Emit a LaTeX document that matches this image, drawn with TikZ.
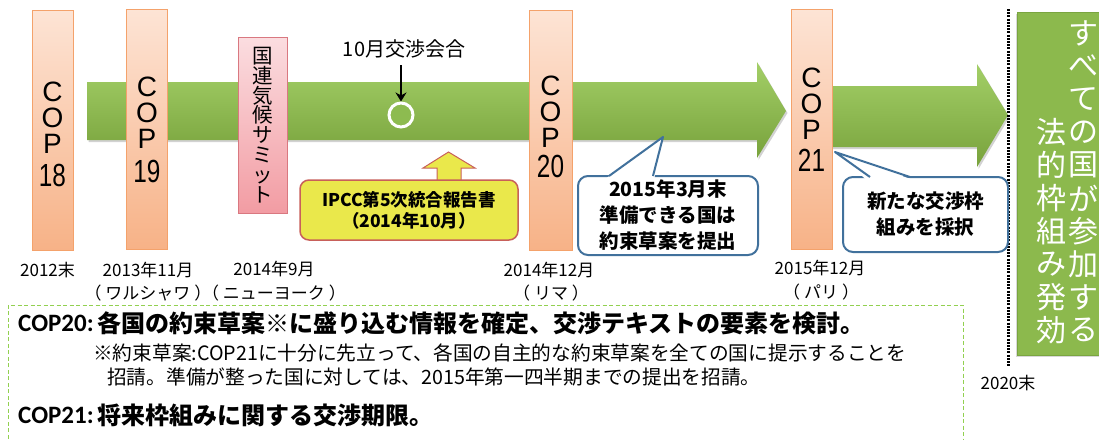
\documentclass[tikz,border=0pt]{standalone}
\usepackage{fontspec}
\setmainfont{Noto Sans CJK JP}
\newfontfamily\arialf{Liberation Sans}
\newfontfamily\calib{Carlito}
\usetikzlibrary{arrows.meta,shadows}
\definecolor{copTop}{HTML}{FDE4D5}
\definecolor{copBot}{HTML}{F7B287}
\definecolor{copLine}{HTML}{F4A26B}
\definecolor{pinkTop}{HTML}{FBDDE0}
\definecolor{pinkBot}{HTML}{F29CA3}
\definecolor{pinkLine}{HTML}{D97880}
\definecolor{grnTop}{HTML}{A3CF67}
\definecolor{grnMid}{HTML}{8DBB50}
\definecolor{grnBot}{HTML}{78A23C}
\definecolor{grnBox}{HTML}{8CB94D}
\definecolor{grnBoxLine}{HTML}{7AA540}
\definecolor{ylw}{HTML}{EAE84B}
\definecolor{ylwLine}{HTML}{C8605A}
\definecolor{callLine}{HTML}{41719C}
\definecolor{dashGrn}{HTML}{92D050}
\begin{document}
\begin{tikzpicture}[x=1pt,y=-1pt,
  copbox/.style={draw=copLine, line width=0.8pt, top color=copTop, bottom color=copBot, inner sep=0pt, minimum width=41pt, minimum height=240pt},
  coptext/.style={font=\arialf\fontsize{28}{26}\selectfont, align=center, inner sep=0pt},
  copnum/.style={font=\arialf\fontsize{32}{32}\selectfont, inner sep=0pt, xscale=0.76},
  datetext/.style={font=\fontsize{17}{17}\selectfont, inner sep=0pt},
  greenarrow/.style={top color=grnTop, middle color=grnMid, bottom color=grnBot, drop shadow={shadow xshift=1.5pt, shadow yshift=-2pt, opacity=0.35}},
  callbox/.style={draw=callLine, line width=2pt, fill=white, rounded corners=10pt, inner sep=0pt, font=\bfseries\fontsize{19.5}{26}\selectfont, align=center},
  bigchar/.style={font=\fontsize{30}{30}\selectfont, text=white, inner sep=0pt},
  bodytext/.style={font=\fontsize{19.7}{19.7}\selectfont, inner sep=0pt, anchor=west},
  headtext/.style={font=\bfseries\fontsize{24}{24}\selectfont, inner sep=0pt, anchor=west},
  headlabel/.style={font=\calib\bfseries\fontsize{25}{25}\selectfont, inner sep=0pt, anchor=west}]
\useasboundingbox (0,0) rectangle (1099,439);
\fill[white] (0,0) rectangle (1099,439);

% dashed frame
\draw[dashGrn, line width=0.8pt, dash pattern=on 4pt off 2.5pt] (8,445) -- (8,305) -- (963,305) -- (963,445);

% green timeline arrows
\path[greenarrow] (87,82) -- (757,82) -- (757,62) -- (786,111) -- (757,158) -- (757,140) -- (87,140) -- cycle;
\path[greenarrow] (820,86) -- (977,86) -- (977,64) -- (1008,115) -- (977,167) -- (977,147) -- (820,147) -- cycle;

% final goal box
\node[fill=grnBox, draw=grnBoxLine, line width=0.8pt, minimum width=95pt, minimum height=343pt, inner sep=0pt, anchor=north west, drop shadow={shadow xshift=-1.5pt, shadow yshift=-2pt, opacity=0.3}] (goal) at (1017,12) {};
\foreach \c [count=\i] in {す,べ,て,の,国,が,参,加,す,る}
  \node[bigchar] (r\i) at (1083,{33*\i}) {\c};
\foreach \c [count=\i from 4] in {法,的,枠,組,み,発,効}
  \node[bigchar] (l\i) at (1051,{33*\i}) {\c};

% dotted 2020 line
\coordinate (dtop) at (1008.5,9);
\coordinate (dbot) at (1008.5,366);
\draw[line width=3pt, dash pattern=on 2pt off 1.2pt] (dtop) -- (dbot);

% COP boxes
\node[copbox] (cop18) at (52.5,130) {};
\node[coptext] (t18) at (52.5,118) {C\\O\\P};
\node[copnum] (n18) at (52.5,175) {18};
\node[copbox] (cop19) at (147,129) {};
\node[coptext] (t19) at (147,113) {C\\O\\P};
\node[copnum] (n19) at (147,171) {19};
\node[copbox, minimum width=43pt] (cop20) at (550.5,130) {};
\node[coptext] (t20) at (550.5,112) {C\\O\\P};
\node[copnum] (n20) at (550.5,166.5) {20};
\node[copbox] (cop21) at (811.5,129) {};
\node[coptext] (t21) at (811.5,104) {C\\O\\P};
\node[copnum] (n21) at (811.5,160) {21};

% UN climate summit
\node[draw=pinkLine, line width=0.8pt, top color=pinkTop, bottom color=pinkBot, minimum width=49pt, minimum height=176pt, inner sep=0pt] (summit) at (262.5,125) {};
\node[font=\fontsize{20.5}{19.8}\selectfont, align=center, inner sep=0pt] (summitt) at (262.5,125) {国\\連\\気\\候\\サ\\ミ\\ッ\\ト};

% October meeting
\node[font=\fontsize{20}{20}\selectfont, inner sep=0pt] (oct) at (404,49) {10月交渉会合};
\node[circle, draw=white, line width=3pt, fill=grnMid, minimum size=24pt, inner sep=0pt] (octc) at (401,115) {};
\draw[line width=2.5pt, -{Stealth[length=9pt,width=11pt]}] (401,65) -- (octc.north);

% IPCC
\path[fill=ylw, draw=ylwLine, line width=1pt] (437,186) -- (437,168) -- (423,168) -- (448.5,152) -- (475,168) -- (461,168) -- (461,186) -- cycle;
\node[fill=ylw, draw=ylwLine, line width=1.5pt, rounded corners=9pt, minimum width=218pt, minimum height=60pt, inner sep=0pt, font=\bfseries\fontsize{17.5}{21}\selectfont, align=center] (ipcc) at (409,210) {IPCC第5次統合報告書\\（2014年10月）};

% callout 1
\node[callbox, minimum width=180pt, minimum height=79pt] (call1) at (668,215.5) {2015年3月末\\準備できる国は\\約束草案を提出};
\coordinate (p1) at (663,137);
\fill[white] (606,178.5) -- (p1) -- (654.3,178.5) -- cycle;
\draw[callLine, line width=2pt, line join=round] (609,176) -- (p1) -- (653,176);

% callout 2
\node[callbox, minimum width=165pt, minimum height=75pt] (call2) at (925.5,214.5) {新たな交渉枠\\組みを採択};
\coordinate (p2) at (835,152);
\fill[white] (866,179.5) -- (p2) -- (912,179.5) -- cycle;
\draw[callLine, line width=2pt, line join=round] (870,177) -- (p2) -- (910,177);

% date labels
\node[datetext] (d12) at (47.5,270) {2012末};
\node[datetext] (d13) at (148,270) {2013年11月};
\node[datetext] (d13b) at (148,293) {（\hspace{4pt}ワルシャワ\hspace{4pt}）};
\node[datetext] (d14) at (274,269) {2014年9月};
\node[datetext] (d14b) at (274,293) {（\hspace{4pt}ニューヨーク\hspace{4pt}）};
\node[datetext] (d1412) at (549,270) {2014年12月};
\node[datetext] (d1412b) at (551,293) {（\hspace{4pt}リマ\hspace{4pt}）};
\node[datetext] (d15) at (820,268) {2015年12月};
\node[datetext] (d15b) at (821,292) {（\hspace{4pt}パリ\hspace{4pt}）};
\node[datetext] (d20) at (1008,383) {2020末};

% bottom text
\node[headlabel] (h20) at (18,323) {COP20:};
\node[headtext] (h20t) at (97,323) {各国の約束草案※に盛り込む情報を確定、交渉テキストの要素を検討。};
\node[bodytext] (n1) at (93,353) {※約束草案:COP21に十分に先立って、各国の自主的な約束草案を全ての国に提示することを};
\node[bodytext] (n2) at (107,377) {招請。準備が整った国に対しては、2015年第一四半期までの提出を招請。};
\node[headlabel] (h21) at (18,415) {COP21:};
\node[headtext] (h21t) at (97,415) {将来枠組みに関する交渉期限。};
\end{tikzpicture}
\end{document}
